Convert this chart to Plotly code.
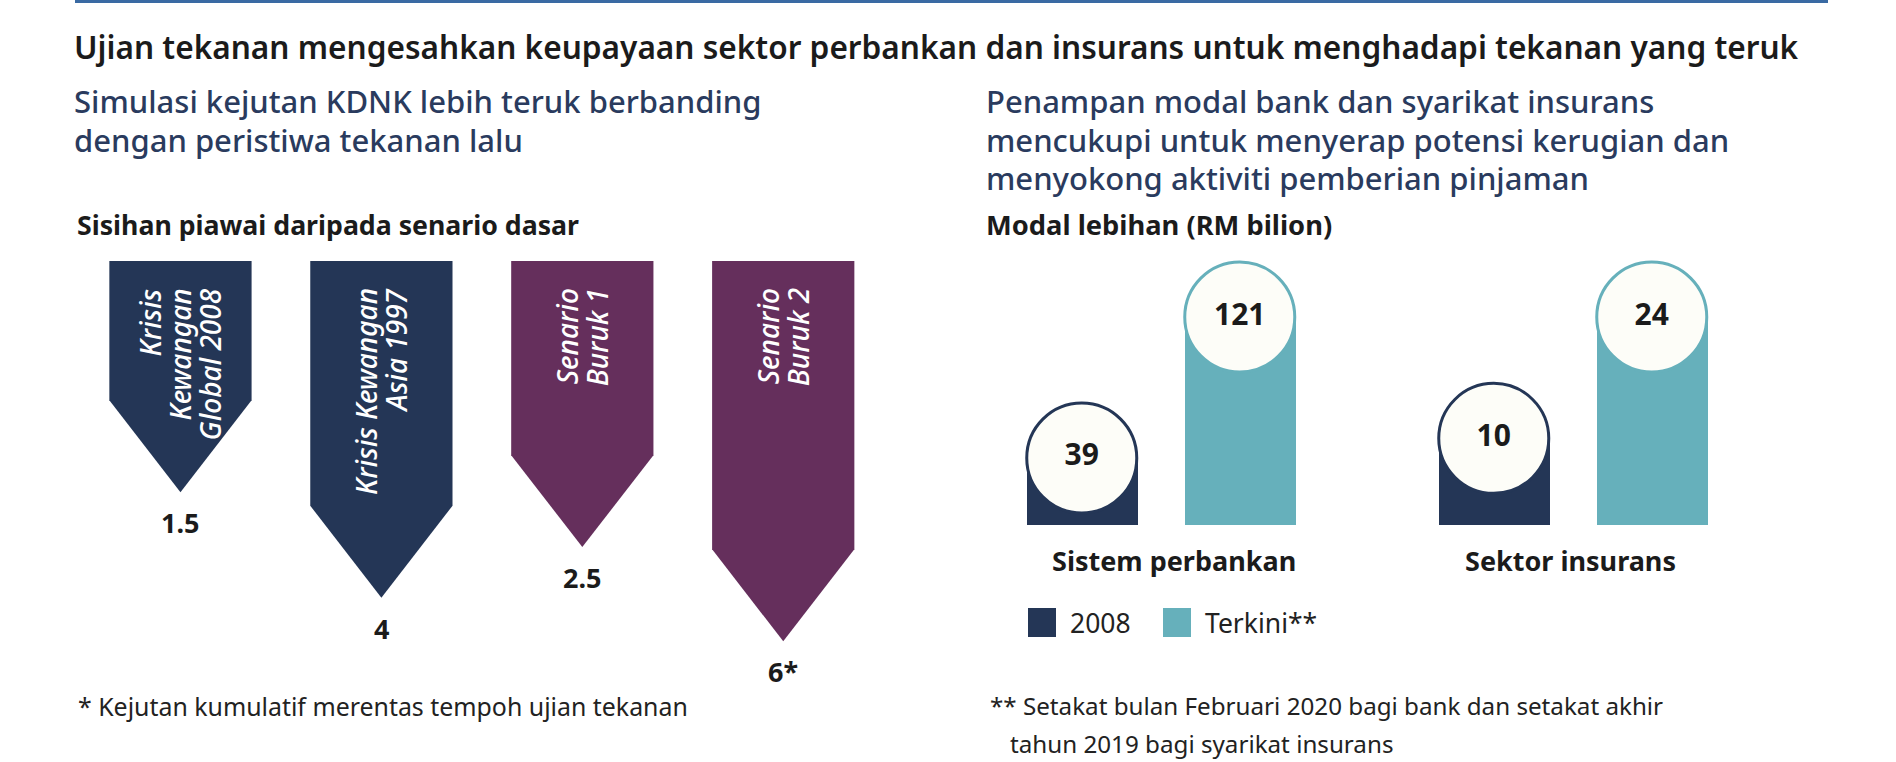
import math
import plotly.graph_objects as go

W, H = 1896, 762

# kiri: sisihan piawai daripada senario dasar
senario = ["Krisis<br>Kewangan<br>Global 2008", "Krisis Kewangan<br>Asia 1997",
           "Senario<br>Buruk 1", "Senario<br>Buruk 2"]
sisihan = [1.5, 4, 2.5, 6]
label_sisihan = ["1.5", "4", "2.5", "6*"]
warna_senario = ["#243656", "#243656", "#652f5c", "#652f5c"]

# kanan: modal lebihan (RM bilion)
sektor = ["Sistem perbankan", "Sektor insurans"]
tempoh = ["2008", "Terkini**"]
modal_2008 = [39, 10]
modal_terkini = [121, 24]
warna_tempoh = ["#243656", "#66b0bb"]

FONT = "Noto Sans"
NAVY_TXT = "#2a3b5e"
BLACK = "#1b1b1b"


def px(x):
    return x / W


def py(y):
    return 1 - y / H


fig = go.Figure()

# --- anak panah (paksi log terbalik) ---
y_log_range = [1.0153, -0.757]
top_val = 10 ** y_log_range[1]
kepala = 2.35   # nisbah bahu -> hujung
hw = 0.354

for i, (v, c) in enumerate(zip(sisihan, warna_senario)):
    bahu = v / kepala
    fig.add_trace(go.Scatter(
        x=[i - hw, i + hw, i + hw, i, i - hw, i - hw],
        y=[top_val, top_val, bahu, v, bahu, top_val],
        fill="toself", fillcolor=c, mode="lines", line=dict(width=0, color=c),
        hoverinfo="skip", showlegend=False, xaxis="x", yaxis="y"))
    fig.add_annotation(x=i, y=math.log10(v), xref="x", yref="y", text=label_sisihan[i],
                       showarrow=False, yanchor="top", yshift=-10,
                       font=dict(family=FONT, size=27, color=BLACK, weight="bold"))
    baris = senario[i].split("<br>")
    n = len(baris)
    for j, b in enumerate(baris):
        fig.add_annotation(x=i, y=py(286), xref="x", yref="paper", text=b,
                           showarrow=False, textangle=-90, xanchor="center", yanchor="top",
                           xshift=(j - (n - 1) / 2) * 30,
                           font=dict(family=FONT, size=28, color="white", style="italic",
                                     weight=500))

# --- bar modal lebihan ---
pusat_kumpulan = [1160.75, 1572.75]
pusat_label = [1174, 1570]
for g, nama in enumerate(sektor):
    xa = "x" + str(g + 2)
    ya = "y" + str(g + 2)
    nilai = [modal_2008[g], modal_terkini[g]]
    for k in range(2):
        fig.add_trace(go.Bar(
            x=[k], y=[nilai[k]], width=0.7025, marker=dict(color=warna_tempoh[k], line_width=0),
            hoverinfo="skip", showlegend=False, xaxis=xa, yaxis=ya))
    fig.add_trace(go.Scatter(
        x=[0, 1], y=nilai, mode="markers+text", text=[str(n) for n in nilai],
        textposition="middle center", cliponaxis=False,
        textfont=dict(family=FONT, size=30, color=BLACK, weight="bold"),
        marker=dict(size=110, color="#fdfdf8", line=dict(width=3, color=warna_tempoh)),
        hoverinfo="skip", showlegend=False, xaxis=xa, yaxis=ya))
    fig.add_annotation(x=px(pusat_label[g]), y=py(560), xref="paper", yref="paper",
                       text=nama, showarrow=False, xanchor="center", yanchor="middle",
                       font=dict(family=FONT, size=27, color=BLACK, weight="bold"))


# --- teks ---
def teks(x, y, s, size, color=BLACK, weight="normal", anchor="left"):
    fig.add_annotation(x=px(x), y=py(y), xref="paper", yref="paper", text=s,
                       showarrow=False, xanchor=anchor, yanchor="middle", align="left",
                       font=dict(family=FONT, size=size, color=color, weight=weight))


teks(72, 46, "Ujian tekanan mengesahkan keupayaan sektor perbankan dan insurans untuk menghadapi tekanan yang teruk",
     31.6, weight=600)
teks(72, 101, "Simulasi kejutan KDNK lebih teruk berbanding", 31, NAVY_TXT, 500)
teks(72, 139.5, "dengan peristiwa tekanan lalu", 31, NAVY_TXT, 500)
teks(984, 101, "Penampan modal bank dan syarikat insurans", 31, NAVY_TXT, 500)
teks(984, 139.5, "mencukupi untuk menyerap potensi kerugian dan", 31, NAVY_TXT, 500)
teks(984, 178, "menyokong aktiviti pemberian pinjaman", 31, NAVY_TXT, 500)
teks(75, 225, "Sisihan piawai daripada senario dasar", 26.7, weight="bold")
teks(984, 225, "Modal lebihan (RM bilion)", 27.3, weight="bold")
teks(76, 706, "* Kejutan kumulatif merentas tempoh ujian tekanan", 24.9, "#222222")
teks(988, 705, "** Setakat bulan Februari 2020 bagi bank dan setakat akhir", 24.2, "#222222")
teks(1008, 743, "tahun 2019 bagi syarikat insurans", 24.2, "#222222")

# petunjuk
leg_x = [1028, 1163]
for k, nama in enumerate(tempoh):
    fig.add_shape(type="rect", xref="paper", yref="paper",
                  x0=px(leg_x[k]), x1=px(leg_x[k] + 28), y0=py(637), y1=py(608),
                  fillcolor=warna_tempoh[k], line_width=0)
    teks(leg_x[k] + 40, 623, nama, 26.5, "#222222")

fig.add_shape(type="line", xref="paper", yref="paper", x0=px(75), x1=px(1828),
              y0=py(1.5), y1=py(1.5), line=dict(color="#3a6aa3", width=3))

hidden = dict(visible=False, showgrid=False, zeroline=False, fixedrange=True)
bar_top = 249
bar_base = 525
tinggi_nilai = 208
layout_axes = dict(
    xaxis=dict(domain=[px(80), px(883.7)], range=[-0.5, 3.5], **hidden),
    yaxis=dict(domain=[py(700), py(261)], type="log", range=y_log_range, **hidden),
)
for g in range(2):
    c = pusat_kumpulan[g]
    layout_axes["xaxis" + str(g + 2)] = dict(domain=[px(c - 158), px(c + 158)], range=[-0.5, 1.5],
                                            anchor="y" + str(g + 2), **hidden)
    ymax = modal_terkini[g] * (bar_base - bar_top) / tinggi_nilai
    layout_axes["yaxis" + str(g + 2)] = dict(domain=[py(bar_base), py(bar_top)], range=[0, ymax],
                                            anchor="x" + str(g + 2), **hidden)

fig.update_layout(
    width=W, height=H, margin=dict(l=0, r=0, t=0, b=0),
    paper_bgcolor="white", plot_bgcolor="rgba(0,0,0,0)",
    showlegend=False, bargap=0, **layout_axes)

fig.write_html("out.html", config={"displayModeBar": False},
               post_script="document.body.style.margin='0px';")
